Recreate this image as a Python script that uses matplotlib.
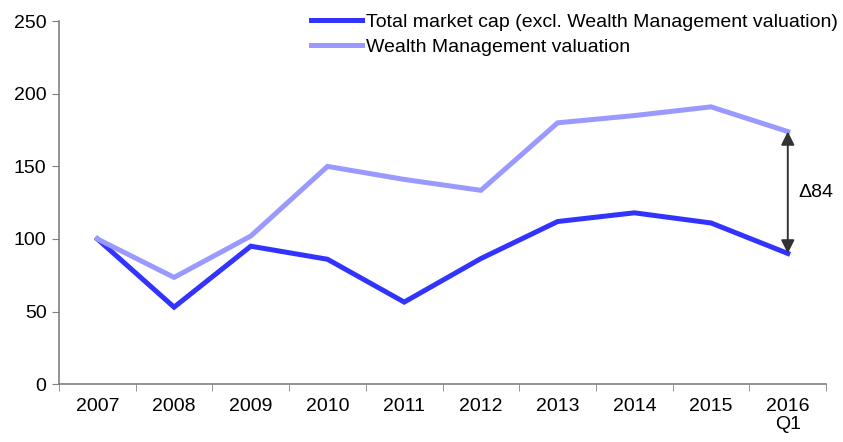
import matplotlib.pyplot as plt
import numpy as np

plt.rcParams['font.family'] = ['Liberation Sans', 'DejaVu Sans']

# Daten aus dem Diagramm
jahre = ['2007', '2008', '2009', '2010', '2011', '2012', '2013', '2014', '2015', '2016\nQ1']
total_cap = [100, 53, 95, 86, 56.5, 86.5, 112, 118, 111, 90]
wealth_val = [100, 73.5, 102, 150, 141, 133.5, 180, 185, 191, 174]
delta_text = 'Δ84'

fig = plt.figure(figsize=(8.43, 4.42), dpi=100)
ax = fig.add_axes([0.070, 0.131, 0.910, 0.821])

x = np.arange(len(jahre))
ax.plot(x, total_cap, color='#3333FF', lw=3.6, solid_joinstyle='miter',
        label='Total market cap (excl. Wealth Management valuation)')
ax.plot(x, wealth_val, color='#9999FF', lw=3.6, solid_joinstyle='miter',
        label='Wealth Management valuation')

# Pfeil zwischen den letzten Punkten
ax.annotate('', xy=(x[-1], wealth_val[-1]), xytext=(x[-1], total_cap[-1]),
            arrowprops=dict(arrowstyle='<|-|>', color='#333333', lw=1.4,
                            mutation_scale=20, shrinkA=0, shrinkB=0))
ax.text(x[-1] + 0.14, (wealth_val[-1] + total_cap[-1]) / 2, delta_text,
        fontsize=14, va='center', ha='left')

ax.set_xlim(-0.5, len(jahre) - 0.5)
ax.set_ylim(0, 250)
ax.set_yticks(range(0, 251, 50))
ax.set_xticks(x)
ax.set_xticklabels(jahre, fontsize=14, linespacing=1.05)
ax.set_xticks(np.arange(-0.5, len(jahre)), minor=True)
ax.tick_params(axis='x', which='major', length=0, pad=10)
ax.tick_params(axis='x', which='minor', length=5, color='#808080', direction='out')
ax.tick_params(axis='y', labelsize=14, length=5, color='#808080', direction='out', pad=4)

for s in ['top', 'right']:
    ax.spines[s].set_visible(False)
for s in ['left', 'bottom']:
    ax.spines[s].set_color('#808080')
    ax.spines[s].set_linewidth(1.2)

ax.legend(loc='upper right', bbox_to_anchor=(1.03, 1.055), frameon=False,
          fontsize=14, handlelength=2.6, handletextpad=0.2, labelspacing=0.4,
          borderpad=0.1)

fig.savefig('out.png', dpi=100)
